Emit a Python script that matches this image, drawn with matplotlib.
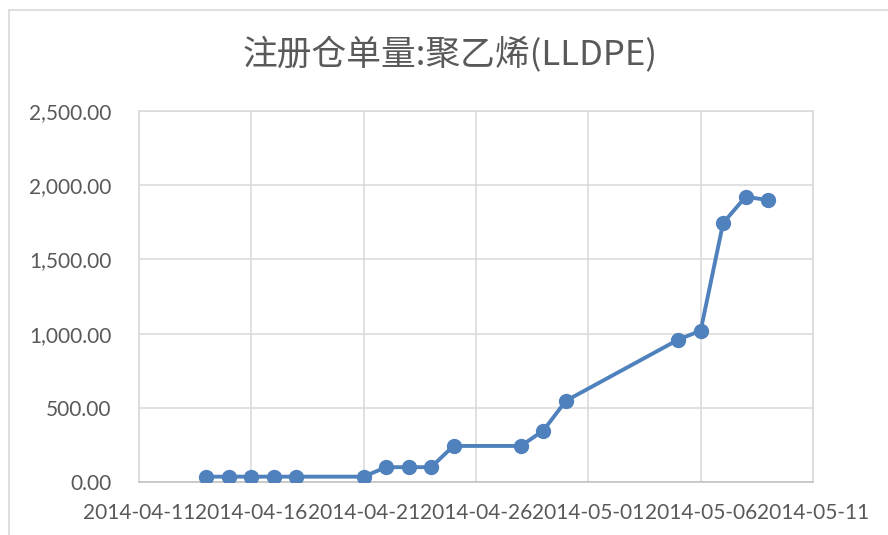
import matplotlib
matplotlib.use("Agg")
import matplotlib.pyplot as plt
import matplotlib.dates as mdates
from matplotlib.lines import Line2D
from matplotlib.ticker import FuncFormatter
import numpy as np

# ---- data ----
dates = ["2014-04-14", "2014-04-15", "2014-04-16", "2014-04-17", "2014-04-18",
         "2014-04-21", "2014-04-22", "2014-04-23", "2014-04-24", "2014-04-25",
         "2014-04-28", "2014-04-29", "2014-04-30", "2014-05-05", "2014-05-06",
         "2014-05-07", "2014-05-08", "2014-05-09"]
values = [36, 36, 36, 36, 36,
          36, 100, 100, 100, 243,
          243, 347, 547, 959, 1020,
          1745, 1922, 1900]
x_ticks = ["2014-04-11", "2014-04-16", "2014-04-21", "2014-04-26",
           "2014-05-01", "2014-05-06", "2014-05-11"]
y_ticks = [0, 500, 1000, 1500, 2000, 2500]
title = "注册仓单量:聚乙烯(LLDPE)"

BLUE = "#4F81BD"
GRID = "#D9D9D9"
TXT = "#595959"

x = np.array(dates, dtype="datetime64[D]")
xt = np.array(x_ticks, dtype="datetime64[D]")

fig = plt.figure(figsize=(8.88, 5.35), dpi=100)
ax = fig.add_axes([139 / 888, 1 - 482 / 535, (813 - 139) / 888, (482 - 111) / 535])

ax.plot(x, values, "-o", color=BLUE, lw=2.8, ms=10, solid_capstyle="round", zorder=3)

ax.set_xlim(xt[0], xt[-1])
ax.set_xticks(xt)
ax.xaxis.set_major_formatter(mdates.DateFormatter("%Y-%m-%d"))
ax.set_ylim(0, 2500)
ax.set_yticks(y_ticks)
ax.yaxis.set_major_formatter(FuncFormatter(lambda v, p: f"{v:,.2f}"))

ax.grid(True, color=GRID, lw=1.1)
ax.set_axisbelow(True)
for s in ax.spines.values():
    s.set_color(GRID); s.set_linewidth(1.1)
ax.spines["bottom"].set_color("#BFBFBF")
ax.tick_params(length=0, labelsize=15, labelcolor=TXT)
ax.tick_params(axis="y", pad=20)
ax.tick_params(axis="x", pad=15)
for lab in ax.get_xticklabels() + ax.get_yticklabels():
    lab.set_family(["Lato", "DejaVu Sans"])

fig.text(450 / 888, 1 - 55 / 535, title, ha="center", va="center", fontsize=25,
         color=TXT, family=["Noto Sans CJK SC", "DejaVu Sans"])

# outer chart border (left and top edges visible)
fig.add_artist(Line2D([9 / 888, 9 / 888], [0, 1 - 10 / 535], transform=fig.transFigure,
                      color=GRID, lw=1.2))
fig.add_artist(Line2D([9 / 888, 1], [1 - 10 / 535, 1 - 10 / 535], transform=fig.transFigure,
                      color=GRID, lw=1.2))

fig.savefig("out.png", dpi=100)
